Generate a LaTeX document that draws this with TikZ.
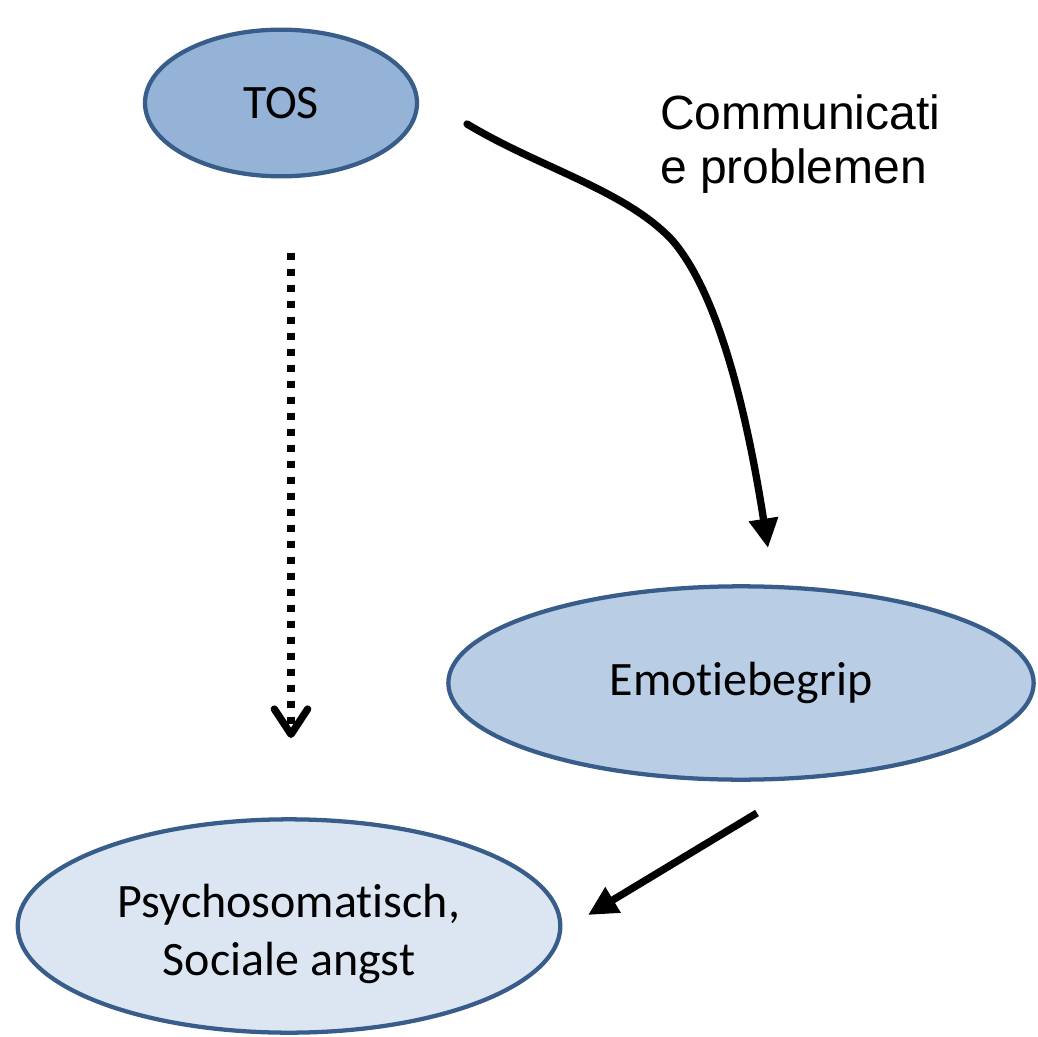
\documentclass[tikz,border=0pt]{standalone}
\usepackage{fontspec}
\setmainfont{Carlito}[Ligatures=NoCommon]
\newfontfamily\arialfont{Liberation Sans}
\usetikzlibrary{shapes.geometric,arrows.meta,calc}
\definecolor{bordc}{HTML}{385D8A}
\definecolor{fillA}{HTML}{95B3D7}
\definecolor{fillB}{HTML}{B9CDE5}
\definecolor{fillC}{HTML}{DCE6F2}
\begin{document}
\begin{tikzpicture}[x=0.75pt,y=-0.75pt,
  ell/.style={ellipse,draw=bordc,line width=3.2pt,inner sep=0pt,align=center,
    font=\fontsize{36}{43}\selectfont},
  conn/.style={line width=5.5pt,black},
  solidtip/.style={-{Triangle[length=22pt,width=21pt]}},
]
\useasboundingbox (0,0) rectangle (1038,1037);
\node[ell,fill=fillA,minimum width=204pt,minimum height=110pt] (tos) at (281,103) {TOS};
\node[ell,fill=fillB,minimum width=439pt,minimum height=145pt] (emo) at (741,683) {Emotiebegrip};
\node[ell,fill=fillC,minimum width=407pt,minimum height=160pt,
  label={[align=center,font=\fontsize{36}{43}\selectfont,yshift=-6pt]center:Psychosomatisch,\\Sociale angst}] (psy) at (289,926) {};
\node[anchor=west,inner sep=0pt,align=left,font=\arialfont\fontsize{36}{41}\selectfont] (lab) at (660,144) {Communicati\\e problemen};
\coordinate (cs) at (467,124);
\coordinate (cm) at (672,240);
\coordinate (ce) at (768,548);
\coordinate (ss) at (757,813);
\coordinate (se) at (588,915);
\coordinate (ds) at (291,253);
\coordinate (de) at (291,738);
\draw[conn,line cap=round,solidtip] (cs) .. controls (540,168) and (625,190) .. (cm)
   .. controls (720,295) and (748,420) .. (ce);
\draw[conn,solidtip] (ss) -- (se);
\draw[line width=5.5pt,dash pattern=on 5.5pt off 6.5pt,-{Straight Barb[length=19pt,width=25pt,line width=5.5pt,round]}] (ds) -- (de);
\end{tikzpicture}
\end{document}
